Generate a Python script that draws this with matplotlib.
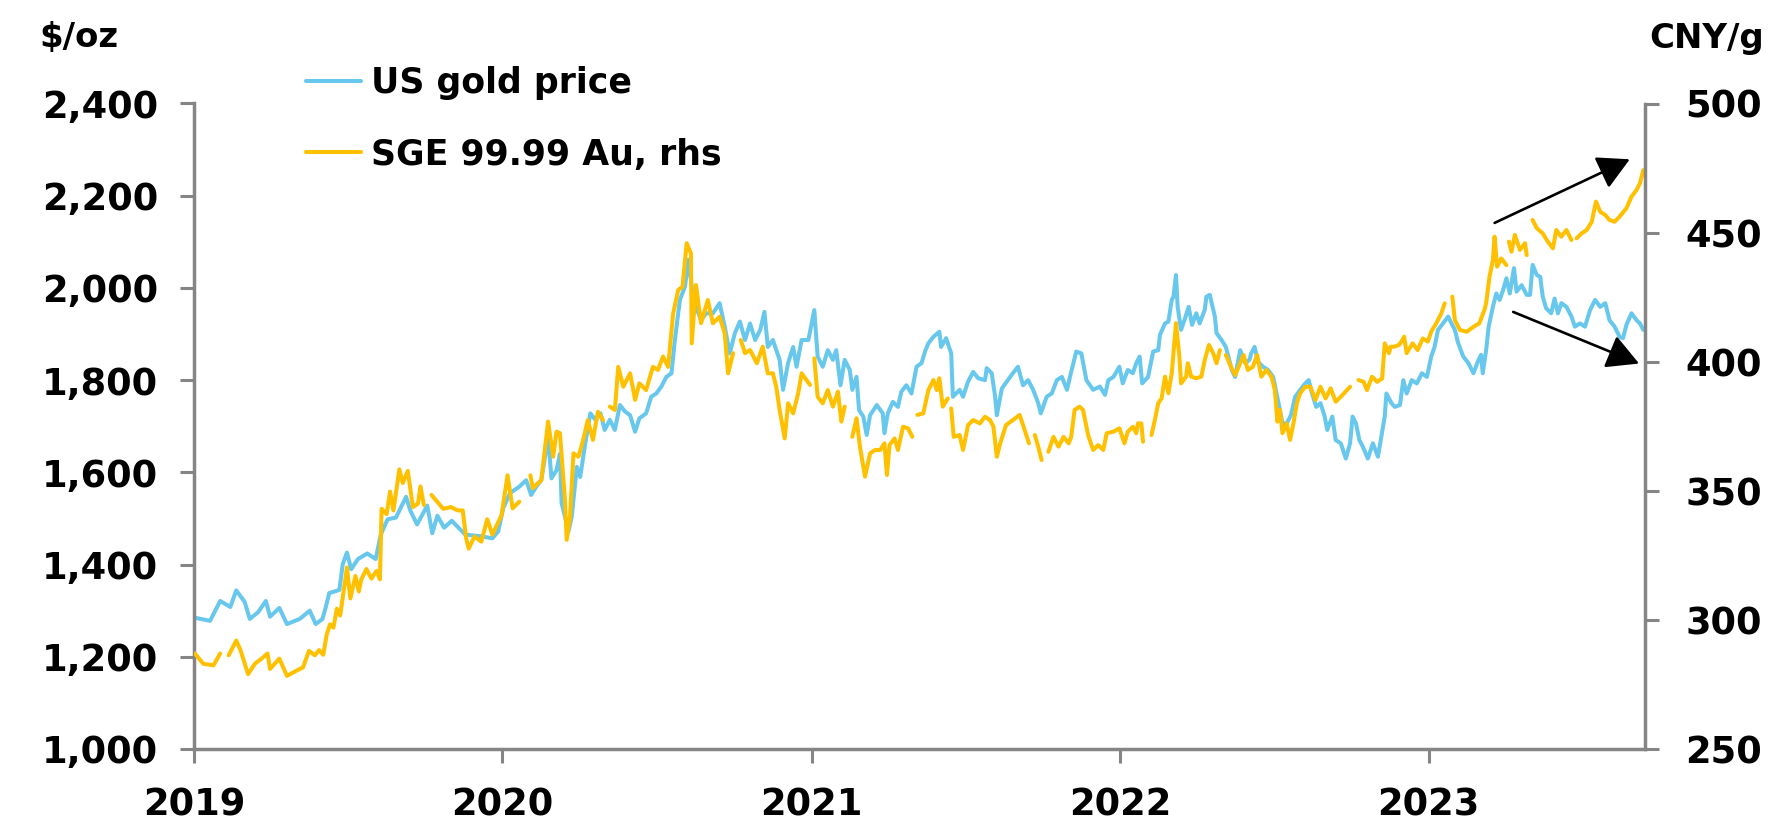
import matplotlib
matplotlib.use("Agg")
import matplotlib.pyplot as plt
import numpy as np
import pandas as pd
from matplotlib.ticker import FuncFormatter

# ---------------- data ----------------
us_dates = [
    "2019-01-04", "2019-01-20", "2019-02-01", "2019-02-13", "2019-02-20", "2019-03-02", "2019-03-08",
    "2019-03-18", "2019-03-27", "2019-04-01", "2019-04-12", "2019-04-21", "2019-05-06", "2019-05-18",
    "2019-05-25", "2019-06-02", "2019-06-06", "2019-06-10", "2019-06-22", "2019-06-26", "2019-07-01",
    "2019-07-06", "2019-07-14", "2019-07-25", "2019-08-04", "2019-08-10", "2019-08-18", "2019-08-28",
    "2019-09-05", "2019-09-09", "2019-09-14", "2019-09-22", "2019-10-04", "2019-10-10", "2019-10-16",
    "2019-10-24", "2019-11-02", "2019-11-18", "2019-12-08", "2019-12-20", "2019-12-27",
    "2020-01-02", "2020-01-10", "2020-01-21", "2020-01-29", "2020-02-04", "2020-02-10", "2020-02-16",
    "2020-02-24", "2020-02-28", "2020-03-05", "2020-03-09", "2020-03-11", "2020-03-15", "2020-03-19",
    "2020-03-23", "2020-03-29", "2020-04-02", "2020-04-08", "2020-04-14", "2020-04-20", "2020-04-26",
    "2020-05-01", "2020-05-07", "2020-05-13", "2020-05-19", "2020-05-25", "2020-05-31", "2020-06-06",
    "2020-06-11", "2020-06-19", "2020-06-25", "2020-07-01", "2020-07-07", "2020-07-13", "2020-07-19",
    "2020-07-23", "2020-07-29", "2020-08-04", "2020-08-08", "2020-08-12", "2020-08-17", "2020-08-23",
    "2020-08-29", "2020-09-06", "2020-09-14", "2020-09-20", "2020-09-26", "2020-10-02", "2020-10-08",
    "2020-10-14", "2020-10-20", "2020-10-26", "2020-11-01", "2020-11-06", "2020-11-10", "2020-11-16",
    "2020-11-24", "2020-11-28", "2020-12-04", "2020-12-10", "2020-12-14", "2020-12-20", "2020-12-28",
    "2021-01-04", "2021-01-08", "2021-01-14", "2021-01-20", "2021-01-26", "2021-01-30", "2021-02-04",
    "2021-02-09", "2021-02-15", "2021-02-18", "2021-02-23", "2021-02-26", "2021-03-03", "2021-03-07",
    "2021-03-11", "2021-03-19", "2021-03-26", "2021-03-28", "2021-04-01", "2021-04-07", "2021-04-13",
    "2021-04-17", "2021-04-23", "2021-04-29", "2021-05-05", "2021-05-11", "2021-05-15", "2021-05-19",
    "2021-05-25", "2021-06-01", "2021-06-03", "2021-06-09", "2021-06-15", "2021-06-17", "2021-06-25",
    "2021-06-29", "2021-07-05", "2021-07-11", "2021-07-17", "2021-07-25", "2021-07-27", "2021-08-02",
    "2021-08-06", "2021-08-08", "2021-08-14", "2021-08-21", "2021-08-27", "2021-09-02", "2021-09-08",
    "2021-09-14", "2021-09-20", "2021-09-26", "2021-09-29", "2021-10-06", "2021-10-12", "2021-10-18",
    "2021-10-24", "2021-10-30", "2021-11-04", "2021-11-10", "2021-11-16", "2021-11-22", "2021-11-30",
    "2021-12-08", "2021-12-14", "2021-12-18", "2021-12-24", "2021-12-31",
    "2022-01-04", "2022-01-10", "2022-01-16", "2022-01-20", "2022-01-24", "2022-01-27", "2022-02-03",
    "2022-02-09", "2022-02-15", "2022-02-17", "2022-02-23", "2022-02-27", "2022-03-03", "2022-03-05",
    "2022-03-08", "2022-03-10", "2022-03-14", "2022-03-18", "2022-03-23", "2022-03-27", "2022-04-01",
    "2022-04-05", "2022-04-11", "2022-04-13", "2022-04-17", "2022-04-23", "2022-04-25", "2022-05-01",
    "2022-05-06", "2022-05-09", "2022-05-13", "2022-05-17", "2022-05-23", "2022-05-29", "2022-06-03",
    "2022-06-05", "2022-06-09", "2022-06-13", "2022-06-19", "2022-06-25", "2022-07-01", "2022-07-05",
    "2022-07-09", "2022-07-12", "2022-07-17", "2022-07-22", "2022-07-27", "2022-08-02", "2022-08-08",
    "2022-08-12", "2022-08-16", "2022-08-21", "2022-08-26", "2022-08-31", "2022-09-03", "2022-09-09",
    "2022-09-13", "2022-09-19", "2022-09-25", "2022-09-30", "2022-10-03", "2022-10-07", "2022-10-11",
    "2022-10-15", "2022-10-21", "2022-10-27", "2022-11-02", "2022-11-06", "2022-11-10", "2022-11-12",
    "2022-11-18", "2022-11-22", "2022-11-28", "2022-12-02", "2022-12-06", "2022-12-12", "2022-12-18",
    "2022-12-24", "2022-12-30",
    "2023-01-04", "2023-01-08", "2023-01-12", "2023-01-18", "2023-01-24", "2023-01-28", "2023-02-01",
    "2023-02-05", "2023-02-11", "2023-02-17", "2023-02-23", "2023-03-01", "2023-03-04", "2023-03-06",
    "2023-03-10", "2023-03-13", "2023-03-18", "2023-03-22", "2023-03-26", "2023-03-30", "2023-04-03",
    "2023-04-07", "2023-04-12", "2023-04-15", "2023-04-21", "2023-04-27", "2023-05-01", "2023-05-04",
    "2023-05-09", "2023-05-13", "2023-05-16", "2023-05-20", "2023-05-26", "2023-05-30", "2023-06-03",
    "2023-06-07", "2023-06-13", "2023-06-19", "2023-06-23", "2023-06-29", "2023-07-05", "2023-07-11",
    "2023-07-17", "2023-07-23", "2023-07-29", "2023-08-03", "2023-08-09", "2023-08-15", "2023-08-19",
    "2023-08-23", "2023-08-29", "2023-09-04", "2023-09-08", "2023-09-12",
]
us_price = [
    1284, 1278, 1321, 1308, 1344, 1319, 1282,
    1297, 1321, 1287, 1306, 1271, 1282, 1300,
    1271, 1282, 1308, 1338, 1345, 1401, 1426,
    1390, 1412, 1424, 1412, 1465, 1498, 1502,
    1532, 1547, 1517, 1487, 1528, 1468, 1506,
    1480, 1495, 1465, 1461, 1457, 1472,
    1523, 1555, 1569, 1583, 1551, 1569, 1583,
    1677, 1587, 1605, 1640, 1533, 1504, 1471,
    1504, 1612, 1590, 1663, 1728, 1714, 1728,
    1692, 1714, 1692, 1746, 1732, 1724, 1688,
    1717, 1728, 1764, 1771, 1786, 1807, 1815,
    1887, 1974, 2003, 2061, 2003, 1959, 1930,
    1945, 1945, 1967, 1916, 1858, 1902, 1927,
    1887, 1923, 1887, 1909, 1948, 1872, 1887,
    1844, 1779, 1837, 1872, 1829, 1887, 1887,
    1952, 1851, 1829, 1865, 1844, 1865, 1789,
    1844, 1822, 1779, 1807, 1735, 1721, 1681,
    1724, 1746, 1728, 1685, 1728, 1753, 1742,
    1775, 1789, 1771, 1829, 1837, 1862, 1880,
    1894, 1905, 1872, 1891, 1858, 1764, 1779,
    1764, 1797, 1818, 1804, 1800, 1826, 1815,
    1764, 1724, 1782, 1800, 1815, 1829, 1789,
    1800, 1779, 1750, 1728, 1764, 1771, 1800,
    1807, 1779, 1818, 1862, 1858, 1800, 1779,
    1786, 1768, 1800, 1807, 1829,
    1793, 1822, 1815, 1837, 1851, 1793, 1807,
    1862, 1865, 1898, 1923, 1927, 1974, 1981,
    2028, 1959, 1909, 1930, 1959, 1920, 1945,
    1923, 1952, 1981, 1985, 1938, 1902, 1887,
    1872, 1851, 1822, 1807, 1865, 1837, 1844,
    1858, 1872, 1840, 1829, 1822, 1807, 1771,
    1735, 1706, 1706, 1724, 1764, 1779, 1793,
    1800, 1771, 1742, 1750, 1721, 1692, 1721,
    1670, 1663, 1630, 1663, 1721, 1706, 1670,
    1656, 1630, 1663, 1634, 1677, 1721, 1771,
    1750, 1742, 1746, 1800, 1771, 1800, 1793,
    1815, 1807,
    1851, 1872, 1909, 1923, 1938, 1923, 1909,
    1880, 1851, 1837, 1815, 1844, 1855, 1815,
    1865, 1916, 1959, 1988, 1974, 1995, 2021,
    1988, 2043, 1992, 2006, 1985, 1985, 2050,
    2028, 2024, 1981, 1956, 1945, 1977, 1945,
    1967, 1959, 1938, 1916, 1923, 1916, 1952,
    1974, 1959, 1967, 1930, 1916, 1894, 1891,
    1920, 1945, 1930, 1923, 1909,
]

# SGE Au99.99 (CNY/g); None marks exchange holidays (gaps in the line)
sge_dates = [
    "2019-01-02", "2019-01-12", "2019-01-24", "2019-02-01", "2019-02-06", "2019-02-11", "2019-02-20",
    "2019-02-25", "2019-03-06", "2019-03-14", "2019-03-22", "2019-03-29", "2019-04-01", "2019-04-12",
    "2019-04-21", "2019-05-02", "2019-05-10", "2019-05-17", "2019-05-24", "2019-05-29", "2019-06-03",
    "2019-06-07", "2019-06-11", "2019-06-15", "2019-06-19", "2019-06-23", "2019-06-27", "2019-07-01",
    "2019-07-05", "2019-07-11", "2019-07-15", "2019-07-18", "2019-07-24", "2019-07-30", "2019-08-05",
    "2019-08-09", "2019-08-11", "2019-08-17", "2019-08-21", "2019-08-25", "2019-09-01", "2019-09-05",
    "2019-09-11", "2019-09-17", "2019-09-23", "2019-09-26", "2019-09-30", "2019-10-04", "2019-10-09",
    "2019-10-23", "2019-11-01", "2019-11-09", "2019-11-15", "2019-11-19", "2019-11-22", "2019-11-29",
    "2019-12-07", "2019-12-14", "2019-12-20", "2019-12-31",
    "2020-01-07", "2020-01-13", "2020-01-21", "2020-01-28", "2020-02-03", "2020-02-06", "2020-02-16",
    "2020-02-24", "2020-03-01", "2020-03-05", "2020-03-09", "2020-03-15", "2020-03-17", "2020-03-21",
    "2020-03-25", "2020-03-31", "2020-04-06", "2020-04-11", "2020-04-17", "2020-04-23", "2020-04-29",
    "2020-05-03", "2020-05-07", "2020-05-13", "2020-05-17", "2020-05-23", "2020-05-31", "2020-06-06",
    "2020-06-11", "2020-06-19", "2020-06-27", "2020-07-03", "2020-07-09", "2020-07-15", "2020-07-21",
    "2020-07-27", "2020-08-01", "2020-08-06", "2020-08-11", "2020-08-12", "2020-08-17", "2020-08-23",
    "2020-08-31", "2020-09-06", "2020-09-14", "2020-09-20", "2020-09-24", "2020-09-30", "2020-10-04",
    "2020-10-09", "2020-10-14", "2020-10-20", "2020-10-28", "2020-11-04", "2020-11-10", "2020-11-16",
    "2020-11-20", "2020-11-24", "2020-11-30", "2020-12-04", "2020-12-10", "2020-12-16", "2020-12-20",
    "2020-12-30", "2021-01-01",
    "2021-01-04", "2021-01-08", "2021-01-14", "2021-01-20", "2021-01-26", "2021-02-01", "2021-02-05",
    "2021-02-09", "2021-02-14", "2021-02-18", "2021-02-23", "2021-02-27", "2021-03-05", "2021-03-11",
    "2021-03-17", "2021-03-23", "2021-03-28", "2021-03-31", "2021-04-03", "2021-04-09", "2021-04-13",
    "2021-04-19", "2021-04-25", "2021-04-30", "2021-05-03", "2021-05-06", "2021-05-13", "2021-05-19",
    "2021-05-25", "2021-05-29", "2021-06-01", "2021-06-05", "2021-06-11", "2021-06-14", "2021-06-15",
    "2021-06-18", "2021-06-25", "2021-06-29", "2021-07-05", "2021-07-11", "2021-07-19", "2021-07-25",
    "2021-07-31", "2021-08-04", "2021-08-08", "2021-08-12", "2021-08-19", "2021-08-27", "2021-09-04",
    "2021-09-10", "2021-09-15", "2021-09-20", "2021-09-22", "2021-09-26", "2021-09-30", "2021-10-04",
    "2021-10-08", "2021-10-14", "2021-10-20", "2021-10-26", "2021-11-01", "2021-11-04", "2021-11-08",
    "2021-11-14", "2021-11-18", "2021-11-24", "2021-11-30", "2021-12-06", "2021-12-12", "2021-12-16",
    "2021-12-24", "2021-12-31",
    "2022-01-06", "2022-01-10", "2022-01-16", "2022-01-20", "2022-01-22", "2022-01-26", "2022-01-28",
    "2022-02-02", "2022-02-07", "2022-02-11", "2022-02-15", "2022-02-19", "2022-02-23", "2022-02-27",
    "2022-03-03", "2022-03-08", "2022-03-12", "2022-03-14", "2022-03-20", "2022-03-22", "2022-03-26",
    "2022-04-01", "2022-04-07", "2022-04-11", "2022-04-16", "2022-04-21", "2022-04-25", "2022-04-29",
    "2022-05-02", "2022-05-06", "2022-05-13", "2022-05-17", "2022-05-23", "2022-05-27", "2022-06-01",
    "2022-06-07", "2022-06-12", "2022-06-17", "2022-06-23", "2022-06-29", "2022-07-03", "2022-07-06",
    "2022-07-09", "2022-07-12", "2022-07-17", "2022-07-21", "2022-07-25", "2022-07-29", "2022-08-02",
    "2022-08-08", "2022-08-14", "2022-08-20", "2022-08-26", "2022-09-01", "2022-09-07", "2022-09-13",
    "2022-09-19", "2022-09-30", "2022-10-04", "2022-10-10", "2022-10-16", "2022-10-20", "2022-10-26",
    "2022-11-01", "2022-11-07", "2022-11-10", "2022-11-15", "2022-11-17", "2022-11-21", "2022-11-27",
    "2022-12-01", "2022-12-03", "2022-12-06", "2022-12-13", "2022-12-19", "2022-12-25", "2022-12-31",
    "2023-01-04", "2023-01-10", "2023-01-16", "2023-01-20", "2023-01-25", "2023-01-29", "2023-02-01",
    "2023-02-07", "2023-02-15", "2023-02-23", "2023-03-02", "2023-03-08", "2023-03-10", "2023-03-14",
    "2023-03-18", "2023-03-20", "2023-03-23", "2023-03-28", "2023-04-03", "2023-04-05", "2023-04-06",
    "2023-04-09", "2023-04-13", "2023-04-19", "2023-04-25", "2023-04-27", "2023-05-01", "2023-05-04",
    "2023-05-09", "2023-05-16", "2023-05-22", "2023-05-28", "2023-06-01", "2023-06-07", "2023-06-13",
    "2023-06-19", "2023-06-22", "2023-06-25", "2023-07-01", "2023-07-07", "2023-07-13", "2023-07-18",
    "2023-07-23", "2023-07-29", "2023-08-03", "2023-08-09", "2023-08-15", "2023-08-23", "2023-08-29",
    "2023-09-04", "2023-09-08", "2023-09-12",
]
sge_price = [
    287.0, 283.0, 282.4, 287.0, None, 286.3, 292.0,
    288.3, 279.0, 283.0, 285.0, 287.0, 281.0, 285.0,
    278.3, 280.3, 281.6, 288.0, 286.3, 288.3, 286.5,
    294.3, 298.3, 297.0, 304.3, 301.7, 311.0, 320.3,
    308.3, 317.0, 311.0, 315.7, 319.7, 316.0, 319.0,
    315.7, 343.0, 341.0, 349.7, 342.4, 358.3, 353.0,
    357.7, 343.7, 345.0, 351.7, 344.5, None, 348.4,
    343.0, 343.7, 342.4, 342.4, 331.7, 327.6, 332.3,
    330.3, 339.0, 333.0, 340.6,
    356.0, 343.2, 345.8, None, 356.0, 351.0, 354.2,
    376.8, 363.2, 372.9, 372.3, 346.4, 331.0, 340.0,
    364.5, 363.2, 370.3, 377.4, 369.7, 380.6, 377.4,
    None, 382.6, 381.3, 398.0, 390.3, 395.5, 385.2,
    391.6, 389.0, 398.0, 396.8, 402.0, 398.0, 418.7,
    427.8, 429.0, 445.9, 442.0, 407.1, 429.7, 414.9,
    423.9, 414.9, 417.4, 411.0, 395.5, 403.3, None,
    408.4, 403.3, 404.5, 399.4, 405.8, 395.5, 395.5,
    390.3, 381.3, 370.3, 383.9, 380.0, 387.8, 395.5,
    391.0, None,
    401.3, 386.4, 383.9, 389.0, 382.6, 388.4, 376.8,
    382.6, None, 370.9, 378.1, 367.1, 355.5, 364.5,
    365.8, 365.8, 368.4, 356.1, 367.7, 370.3, 365.8,
    374.8, 374.2, 370.9, None, 379.4, 380.0, 389.0,
    392.9, 389.0, 393.6, 382.6, 385.8, None, 381.9,
    370.9, 371.6, 365.8, 375.5, 377.4, 376.1, 378.7,
    377.4, 374.8, 363.2, 368.4, 375.5, 377.4, 379.4,
    373.5, 368.4, None, 371.6, 367.1, 361.9, None,
    365.1, 370.9, 367.1, 370.9, 368.4, 370.9, 381.3,
    382.6, 381.3, 371.6, 365.8, 367.7, 365.8, 372.3,
    372.9, 374.2,
    368.4, 372.9, 374.8, 372.3, 376.1, 376.1, 369.0,
    None, 371.6, 377.4, 383.9, 385.8, 394.2, 387.8,
    395.5, 414.9, 402.0, 391.6, 394.2, 399.4, 394.2,
    393.6, 394.2, 400.6, 406.5, 403.3, 399.4, 404.5,
    None, 402.6, 397.4, 394.8, 399.4, 402.6, 396.8,
    398.0, 402.6, 394.2, 396.8, 394.2, 389.0, 376.8,
    381.3, 372.3, 376.1, 369.7, 376.1, 383.9, 387.8,
    390.3, 390.3, 385.2, 390.3, 385.8, 389.7, 384.5,
    386.4, 390.3, None, 392.9, 392.2, 389.0, 394.2,
    392.2, 393.5, 407.1, 403.3, 405.8, 405.8, 406.5,
    408.4, 409.7, 403.3, 407.1, 404.5, 409.0, 407.8,
    411.6, 414.9, 418.7, 422.6, None, 425.2, 416.1,
    412.3, 411.6, 413.5, 414.9, 420.0, 422.6, 432.9,
    439.4, 448.4, 436.8, 440.0, 437.4, None, 446.5,
    442.6, 449.1, 443.3, 445.9, 441.3, None, 454.9,
    451.7, 449.7, 446.5, 443.9, 451.0, 448.4, 451.0,
    447.1, None, 447.8, 449.7, 451.0, 454.2, 462.0,
    458.1, 456.8, 454.9, 454.2, 456.2, 459.4, 463.9,
    466.5, 469.1, 474.2,
]

year_ticks = ["2019-01-01", "2020-01-01", "2021-01-01", "2022-01-01", "2023-01-01"]
year_labels = ["2019", "2020", "2021", "2022", "2023"]
left_ticks = [1000, 1200, 1400, 1600, 1800, 2000, 2200, 2400]
right_ticks = [250, 300, 350, 400, 450, 500]

# annotation arrows (date, $/oz on the left scale)
arrow_up = (("2023-03-20", 2141), ("2023-08-27", 2279))
arrow_down = (("2023-04-11", 1948), ("2023-09-07", 1836))

# ---------------- style ----------------
BLUE = "#67C7EC"
GOLD = "#FFC000"
GREY = "#858585"

plt.rcParams["font.family"] = ["DejaVu Sans"]
plt.rcParams["font.weight"] = "bold"

W, H = 1768, 834
fig = plt.figure(figsize=(W / 100, H / 100), dpi=100)
ax_l, ax_r, ax_t, ax_b = 194, 1645, 103.5, 749
ax = fig.add_axes([ax_l / W, 1 - ax_b / H, (ax_r - ax_l) / W, (ax_b - ax_t) / H])
ax2 = ax.twinx()

us_x = pd.to_datetime(us_dates)
sge_x = pd.to_datetime(sge_dates)
sge_y = np.array(sge_price, dtype=float)

l1, = ax.plot(us_x, us_price, color=BLUE, lw=2.9, solid_joinstyle="round",
              solid_capstyle="round", label="US gold price")
l2, = ax2.plot(sge_x, sge_y, color=GOLD, lw=2.9, solid_joinstyle="round",
               solid_capstyle="round", label="SGE 99.99 Au, rhs")

ax.set_xlim(pd.Timestamp("2019-01-01"), pd.Timestamp("2023-09-14"))
ax.set_ylim(1000, 2400)
ax2.set_ylim(250, 500)
ax.set_xticks(pd.to_datetime(year_ticks))
ax.set_xticklabels(year_labels)
ax.set_yticks(left_ticks)
ax2.set_yticks(right_ticks)
ax.yaxis.set_major_formatter(FuncFormatter(lambda v, p: f"{int(v):,}"))
ax2.yaxis.set_major_formatter(FuncFormatter(lambda v, p: f"{int(v)}"))

for a in (ax, ax2):
    a.spines["top"].set_visible(False)
    for s in a.spines.values():
        s.set_color(GREY)
        s.set_linewidth(2.5)
ax.spines["right"].set_visible(False)
ax2.spines["left"].set_visible(False)
ax2.spines["bottom"].set_visible(False)

ax.tick_params(axis="x", direction="out", length=10, width=2.2, color=GREY,
               labelsize=26.5, pad=17, labelcolor="black")
ax.tick_params(axis="y", direction="out", length=10, width=2.2, color=GREY,
               labelsize=26.5, pad=16, labelcolor="black")
ax2.tick_params(axis="y", direction="out", length=10, width=2.2, color=GREY,
                labelsize=26.5, pad=19, labelcolor="black")
for lab in ax.get_xticklabels() + ax.get_yticklabels() + ax2.get_yticklabels():
    lab.set_fontweight("bold")

# axis unit labels
fig.text(39 / W, 1 - 47 / H, "$/oz", ha="left", va="baseline", fontsize=24.5, fontweight="bold")
fig.text(1764 / W, 1 - 48 / H, "CNY/g", ha="right", va="baseline", fontsize=24.5, fontweight="bold")

# legend
leg = ax2.legend([l1, l2], ["US gold price", "SGE 99.99 Au, rhs"], loc="upper left",
                 bbox_to_anchor=(306 / W, 1 - 66 / H), bbox_transform=fig.transFigure,
                 frameon=False, prop={"size": 25, "weight": "bold"},
                 handlelength=1.58, handletextpad=0.3, labelspacing=1.08,
                 borderpad=0, borderaxespad=0)

# arrows
for (d0, v0), (d1, v1) in (arrow_up, arrow_down):
    ax.annotate("", xy=(pd.Timestamp(d1), v1), xytext=(pd.Timestamp(d0), v0),
                arrowprops=dict(arrowstyle="-|>,head_length=1.15,head_width=0.62",
                                mutation_scale=17, lw=1.9, color="black",
                                shrinkA=0, shrinkB=0),
                annotation_clip=False)

fig.savefig("out.png", dpi=100)
